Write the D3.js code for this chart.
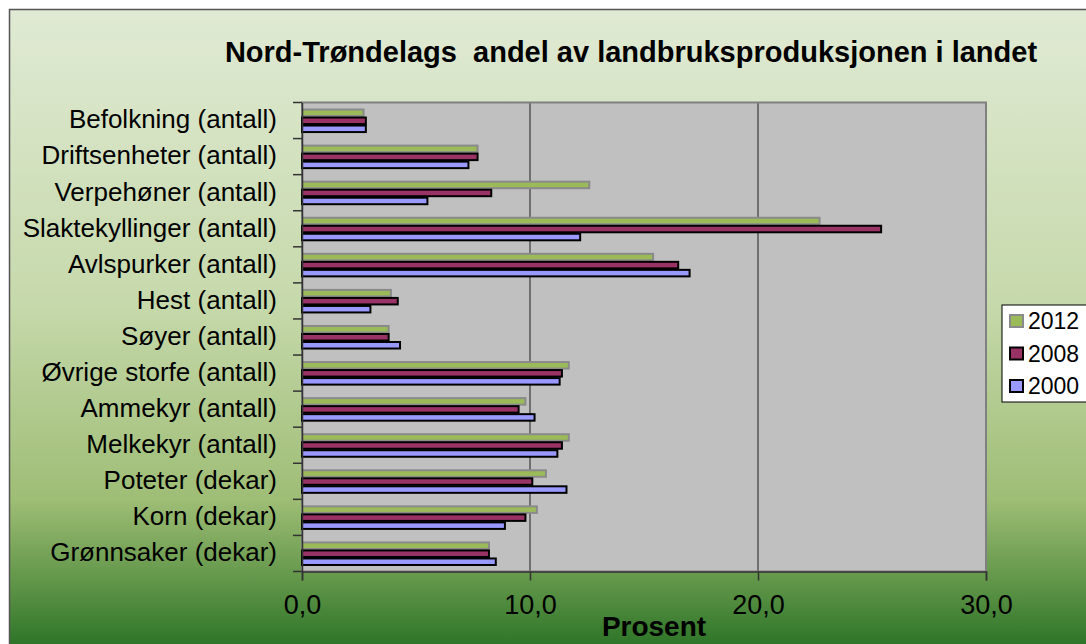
<!DOCTYPE html>
<html>
<head>
<meta charset="utf-8">
<script src="https://cdn.jsdelivr.net/npm/d3@7"></script>
<style>
  body { margin: 0; background: #fff; }
  text { font-family: "Liberation Sans", Arial, sans-serif; fill: #000; }
</style>
</head>
<body>
<div id="chart"></div>
<script>
var categories = ["Befolkning (antall)", "Driftsenheter (antall)", "Verpehøner (antall)",
  "Slaktekyllinger (antall)", "Avlspurker (antall)", "Hest (antall)", "Søyer (antall)",
  "Øvrige storfe (antall)", "Ammekyr (antall)", "Melkekyr (antall)", "Poteter (dekar)",
  "Korn (dekar)", "Grønnsaker (dekar)"];

var seriesNames = ["2012", "2008", "2000"];

var v2012 = [2.7, 7.7, 12.6, 22.7, 15.4, 3.9, 3.8, 11.7, 9.8, 11.7, 10.7, 10.3, 8.2];
var v2008 = [2.8, 7.7, 8.3, 25.4, 16.5, 4.2, 3.8, 11.4, 9.5, 11.4, 10.1, 9.8, 8.2];
var v2000 = [2.8, 7.3, 5.5, 12.2, 17.0, 3.0, 4.3, 11.3, 10.2, 11.2, 11.6, 8.9, 8.5];

var xTicks = [0, 10, 20, 30];

var W = 1086, H = 644;
var margin = {top: 102.5, left: 302},
    width = 684,
    height = 469;

var fills = {"2012": "#9bbb59", "2008": "#993366", "2000": "#9999ff"};
var strokes = {"2012": "#8a8a8a", "2008": "#000", "2000": "#000"};
var values = {"2012": v2012, "2008": v2008, "2000": v2000};

var svg = d3.select("#chart").append("svg")
  .attr("width", W)
  .attr("height", H);

// background gradient
var defs = svg.append("defs");
var grad = defs.append("linearGradient")
  .attr("id", "bg")
  .attr("x1", 0).attr("y1", 0).attr("x2", 0).attr("y2", 1);
grad.append("stop").attr("offset", "0%").attr("stop-color", "#e0ead4");
grad.append("stop").attr("offset", "45%").attr("stop-color", "#c6d9ab");
grad.append("stop").attr("offset", "75%").attr("stop-color", "#9ebd75");
grad.append("stop").attr("offset", "88%").attr("stop-color", "#5e9447");
grad.append("stop").attr("offset", "100%").attr("stop-color", "#1f6b1f");

svg.append("rect")
  .attr("x", 9.5).attr("y", 9.5)
  .attr("width", W + 10).attr("height", H + 10)
  .attr("fill", "url(#bg)")
  .attr("stroke", "#555")
  .attr("stroke-width", 1.5);

svg.append("text")
  .attr("x", 631)
  .attr("y", 62)
  .attr("text-anchor", "middle")
  .style("font-size", "29px")
  .style("font-weight", "bold")
  .style("white-space", "pre")
  .text("Nord-Trøndelags  andel av landbruksproduksjonen i landet");

var x = d3.scaleLinear().domain([0, 30]).range([0, width]);
var y = d3.scaleBand().domain(categories).range([0, height]);
var ySub = d3.scaleBand().domain(seriesNames).range([0, y.bandwidth()]).paddingOuter(0.75);

var g = svg.append("g")
  .attr("transform", "translate(" + margin.left + "," + margin.top + ")");

g.append("rect")
  .attr("width", width).attr("height", height)
  .attr("fill", "#c0c0c0");

// grid lines
g.selectAll("line.grid")
  .data(xTicks.slice(1, -1))
  .enter().append("line")
  .attr("class", "grid")
  .attr("x1", d => x(d)).attr("x2", d => x(d))
  .attr("y1", 0).attr("y2", height)
  .attr("stroke", "#555")
  .attr("stroke-width", 1.5);

g.append("rect")
  .attr("width", width).attr("height", height)
  .attr("fill", "none")
  .attr("stroke", "#808080")
  .attr("stroke-width", 2);

// bars
seriesNames.forEach(function(s) {
  g.append("g").selectAll("rect")
    .data(categories)
    .enter().append("rect")
    .attr("x", 0)
    .attr("y", d => y(d) + ySub(s) + 1)
    .attr("width", (d, i) => x(values[s][i]))
    .attr("height", ySub.bandwidth() - 1.5)
    .attr("fill", fills[s])
    .attr("stroke", strokes[s])
    .attr("stroke-width", 2);
});

// x axis
var xAxis = g.append("g")
  .attr("transform", "translate(0," + height + ")")
  .call(d3.axisBottom(x).tickValues(xTicks).tickSize(9).tickPadding(14)
    .tickFormat(d => d3.format(".1f")(d).replace(".", ",")));
xAxis.select(".domain").attr("stroke", "#333").attr("stroke-width", 1.5);
xAxis.selectAll(".tick line").attr("stroke", "#333").attr("stroke-width", 1.5);
xAxis.selectAll(".tick text")
  .style("font-size", "27px")
  .attr("font-family", null);

// y axis
var yAxis = g.append("g")
  .call(d3.axisLeft(y).tickSize(0).tickPadding(25));
yAxis.select(".domain").attr("stroke", "#333").attr("stroke-width", 1.5);
yAxis.selectAll(".tick text")
  .style("font-size", "26px")
  .attr("font-family", null)
  .attr("dy", "0.3em");

g.append("g").selectAll("line")
  .data(d3.range(categories.length + 1))
  .enter().append("line")
  .attr("x1", -9).attr("x2", 0)
  .attr("y1", d => d * y.step()).attr("y2", d => d * y.step())
  .attr("stroke", "#333")
  .attr("stroke-width", 1.5);

svg.append("text")
  .attr("x", 654)
  .attr("y", 636)
  .attr("text-anchor", "middle")
  .style("font-size", "28px")
  .style("font-weight", "bold")
  .text("Prosent");

// legend
var legend = svg.append("g").attr("transform", "translate(1002,305)");
legend.append("rect")
  .attr("width", 100).attr("height", 97)
  .attr("fill", "#fff")
  .attr("stroke", "#000")
  .attr("stroke-width", 1);

var items = legend.selectAll("g.item")
  .data(seriesNames)
  .enter().append("g")
  .attr("class", "item")
  .attr("transform", (d, i) => "translate(0," + (16 + i * 32.5) + ")");
items.append("rect")
  .attr("x", 8).attr("y", -6)
  .attr("width", 13).attr("height", 12)
  .attr("fill", d => fills[d])
  .attr("stroke", d => strokes[d])
  .attr("stroke-width", 2);
items.append("text")
  .attr("x", 26)
  .attr("y", 8)
  .style("font-size", "23px")
  .text(d => d);
</script>
</body>
</html>
